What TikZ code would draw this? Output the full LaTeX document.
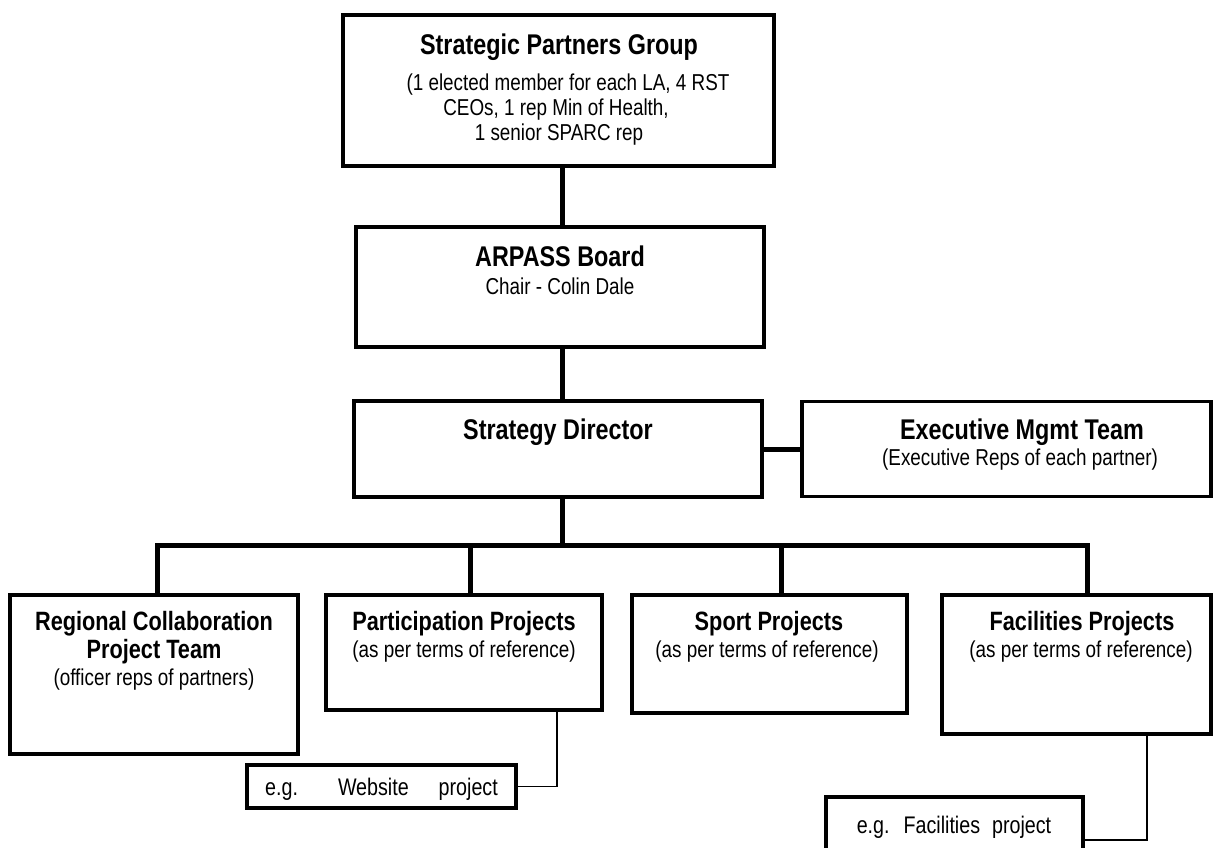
\documentclass[tikz,border=0pt]{standalone}
\usepackage{fontspec}
\setmainfont{Liberation Sans}[FakeStretch=0.82]
\begin{document}
\begin{tikzpicture}[x=1pt,y=-1pt,
  box/.style={draw, line width=3.5pt, rectangle, inner sep=0pt, outer sep=0pt},
  conn/.style={line width=5pt},
  thinconn/.style={line width=1.5pt},
  ttl/.style={font=\fontsize{28.5}{30}\selectfont\bfseries, anchor=base, inner sep=0pt},
  ttlb/.style={font=\fontsize{26.5}{28}\selectfont\bfseries, anchor=base, inner sep=0pt},
  txt/.style={font=\fontsize{23}{25}\selectfont, anchor=base, inner sep=0pt},
  eg/.style={font=\fontsize{24}{25}\selectfont, anchor=base, inner sep=0pt}]
\path[use as bounding box] (0,0) rectangle (1213,847);
\clip (0,0) rectangle (1213,847);

% boxes
\node[box, line width=4pt, minimum width=431pt, minimum height=151pt] (spg) at (558.5,90.5) {};
\node[box, minimum width=408pt, minimum height=120pt] (arp) at (560,287) {};
\node[box, minimum width=408pt, minimum height=96pt] (sd) at (558,449) {};
\node[box, minimum width=409pt, minimum height=95pt] (exec) at (1006.5,449) {};
\node[box, minimum width=288pt, minimum height=159pt] (reg) at (154,674.5) {};
\node[box, minimum width=276pt, minimum height=115pt] (par) at (464,652.5) {};
\node[box, minimum width=275pt, minimum height=118pt] (spo) at (769.5,654) {};
\node[box, minimum width=269pt, minimum height=139pt] (fac) at (1076.5,664.5) {};
\node[box, minimum width=269pt, minimum height=43pt] (web) at (381.5,786.5) {};
\node[box, minimum width=257pt, minimum height=78pt] (fp) at (954.5,836) {};

% texts
\node[ttl] (spgT) at (559,54) {Strategic Partners Group};
\node[txt] (spg1) at (568,90) {(1 elected member for each LA, 4 RST};
\node[txt] (spg2) at (556,115) {CEOs, 1 rep Min of Health,};
\node[txt] (spg3) at (559,140) {1 senior SPARC rep};

\node[ttl] (arpT) at (560,266) {ARPASS Board};
\node[txt] (arp1) at (560,294) {Chair - Colin Dale};

\node[ttl] (sdT) at (558,439) {Strategy Director};

\node[ttl] (execT) at (1022,439) {Executive Mgmt Team};
\node[txt] (exec1) at (1020,465) {(Executive Reps of each partner)};

\node[ttlb] (regT1) at (154,630) {Regional Collaboration};
\node[ttlb] (regT2) at (154,658) {Project Team};
\node[txt] (reg1) at (154,685) {(officer reps of partners)};

\node[ttlb] (parT) at (464,630) {Participation Projects};
\node[txt] (par1) at (464,657) {(as per terms of reference)};

\node[ttlb] (spoT) at (769,630) {Sport Projects};
\node[txt] (spo1) at (767,657) {(as per terms of reference)};

\node[ttlb] (facT) at (1082,630) {Facilities Projects};
\node[txt] (fac1) at (1081,657) {(as per terms of reference)};

\node[eg] (webT) at (381.5,795) {e.g.\hspace{40pt}Website\hspace{30pt}project};
\node[eg] (fpT) at (954,833) {e.g.\hspace{14pt}Facilities\hspace{12pt}project};

% connectors
\coordinate (tr) at (562,0);
\coordinate (bar) at (0,545);
\coordinate (dReg) at (157,545);
\coordinate (dPar) at (470,545);
\coordinate (dSpo) at (781,545);
\coordinate (dFac) at (1087,545);
\draw[conn] (tr |- spg.south) -- (tr |- arp.north);
\draw[conn] (tr |- arp.south) -- (tr |- sd.north);
\draw[conn] (sd.east) -- (exec.west);
\draw[conn] (tr |- sd.south) -- (tr |- bar);
\draw[conn, line join=miter] (dReg |- reg.north) -- (dReg) -- (dFac) -- (dFac |- fac.north);
\draw[conn] (dPar) -- (dPar |- par.north);
\draw[conn] (dSpo) -- (dSpo |- spo.north);

\coordinate (pT) at (557,0);
\draw[thinconn] (pT |- par.south) -- (pT |- web.east) -- (web.east);
\coordinate (fT) at (1147,840);
\draw[thinconn] (fT |- fac.south) -- (fT) -- (fT -| fp.east);
\end{tikzpicture}
\end{document}
